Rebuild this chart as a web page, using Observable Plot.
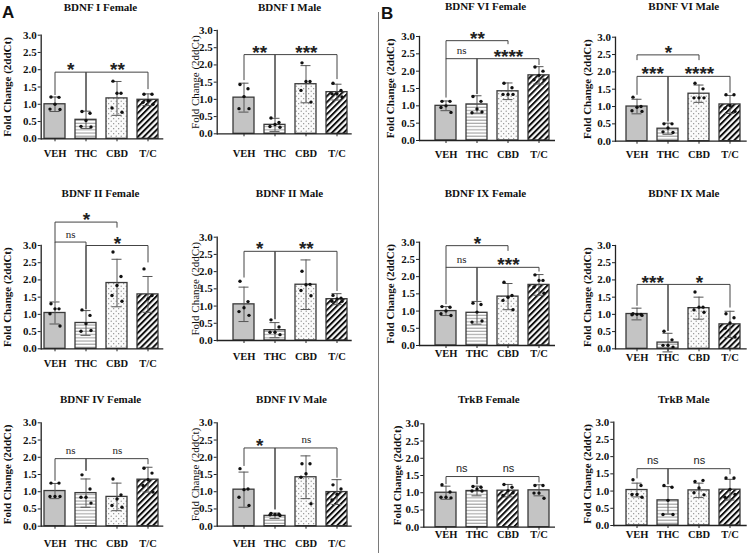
<!DOCTYPE html>
<html><head><meta charset="utf-8">
<script src="https://cdn.jsdelivr.net/npm/d3@7"></script>
<script src="https://cdn.jsdelivr.net/npm/@observablehq/plot@0.6"></script>
<style>
body{margin:0;background:#fff;}
#wrap{position:relative;width:754px;height:553px;overflow:hidden;background:#fff;}
#wrap > svg{position:absolute;left:0;top:0;}
.letter{position:absolute;font-family:"Liberation Sans",Arial,sans-serif;font-weight:bold;font-size:17px;line-height:1;color:#111;}
#divider{position:absolute;left:378px;top:12px;width:1.2px;height:541px;background:#7a7a7a;}
</style></head><body>
<div id="wrap">
<svg id="defs" width="0" height="0">
<defs>
 <pattern id="pat-h" patternUnits="userSpaceOnUse" width="4" height="3.2"><rect width="4" height="3.2" fill="#fff"/><rect y="1.3" width="4" height="0.9" fill="#8a8a8a"/></pattern>
 <pattern id="pat-d" patternUnits="userSpaceOnUse" width="4.2" height="4.2" patternTransform="rotate(45)"><rect width="4.2" height="4.2" fill="#fff"/><rect width="2" height="4.2" fill="#111"/></pattern>
 <pattern id="pat-dots" patternUnits="userSpaceOnUse" width="5" height="5"><rect width="5" height="5" fill="#fbfbfb"/><circle cx="1.2" cy="1.2" r="0.6" fill="#7a7a7a"/><circle cx="3.7" cy="3.7" r="0.6" fill="#7a7a7a"/></pattern>
</defs></svg>
<div class="letter" style="left:2px;top:4px">A</div>
<div class="letter" style="left:381px;top:5px">B</div>
<div id="divider"></div>
</div>
<script>
// ---------------- data ----------------
const groups = ["VEH", "THC", "CBD", "T/C"];
const yTicks = [0, 0.5, 1, 1.5, 2, 2.5, 3];
const yLabel = "Fold Change (2ddCt)";
const titles = ["BDNF I Female", "BDNF I Male", "BDNF VI Female", "BDNF VI Male",
  "BDNF II Female", "BDNF II Male", "BDNF IX Female", "BDNF IX Male",
  "BDNF IV Female", "BDNF IV Male", "TrkB Female", "TrkB Male"];
const means = [
  [1.00, 0.55, 1.17, 1.13],
  [1.05, 0.26, 1.44, 1.21],
  [1.00, 1.04, 1.42, 1.88],
  [1.00, 0.36, 1.37, 1.06],
  [1.04, 0.75, 1.91, 1.58],
  [1.05, 0.30, 1.62, 1.20],
  [1.00, 0.95, 1.42, 1.76],
  [1.01, 0.18, 1.18, 0.71],
  [1.02, 0.96, 0.85, 1.35],
  [1.06, 0.30, 1.42, 0.99],
  [1.00, 1.05, 1.06, 1.07],
  [1.03, 0.73, 1.02, 1.04]
];
const sds = [
  [0.21, 0.25, 0.49, 0.17],
  [0.42, 0.19, 0.54, 0.23],
  [0.14, 0.25, 0.24, 0.25],
  [0.21, 0.16, 0.25, 0.26],
  [0.32, 0.36, 0.69, 0.52],
  [0.50, 0.22, 0.72, 0.16],
  [0.13, 0.33, 0.38, 0.30],
  [0.17, 0.27, 0.32, 0.38],
  [0.22, 0.41, 0.40, 0.36],
  [0.51, 0.08, 0.62, 0.36],
  [0.19, 0.14, 0.18, 0.16],
  [0.20, 0.40, 0.21, 0.30]
];
const points = [
  [[1.21,1.2,1.0,0.86,0.85],[0.79,0.74,0.53,0.36,0.34],[1.67,1.32,1.32,0.89,0.77],[1.29,1.29,1.1,1.06,1.0]],
  [[1.43,1.31,1.08,0.73,0.73],[0.46,0.33,0.27,0.21,0.19],[2.06,1.52,1.52,1.26,0.92],[1.47,1.26,1.16,1.16,1.07]],
  [[1.13,1.13,1.0,0.95,0.81],[1.27,1.13,0.91,0.8,0.82],[1.65,1.52,1.33,1.33,1.33],[2.12,2.0,1.88,1.75,1.75]],
  [[1.27,1.0,0.98,0.88,0.86],[0.5,0.5,0.38,0.27,0.25],[1.67,1.51,1.25,1.25,1.25],[1.34,1.34,1.03,0.95,0.86]],
  [[1.31,1.16,1.16,1.02,0.66],[1.13,0.97,0.73,0.51,0.53],[2.81,2.1,1.84,1.55,1.38],[2.32,1.55,1.45]],
  [[1.72,1.13,0.95,0.84,0.73],[0.6,0.39,0.24,0.24,0.17],[2.01,1.63,1.62,1.45,1.3],[1.31,1.23,1.21,1.14,1.14]],
  [[1.13,1.11,1.0,0.92,0.87],[1.23,1.19,0.97,0.68,0.71],[1.84,1.45,1.4,1.31,1.04],[2.05,1.89,1.89,1.7,1.52]],
  [[1.02,1.0,1.0,0.99,0.97],[0.51,0.26,0.1,0.1,0.05],[1.65,1.21,1.21,1.13,1.06],[1.02,0.9,0.75,0.6,0.34]],
  [[1.25,1.25,0.86,0.86,0.86],[1.49,1.08,0.84,0.84,0.67],[1.37,0.91,0.79,0.6,0.55],[1.68,1.54,1.35,1.18,0.99]],
  [[1.67,1.08,1.06,0.84,0.6],[0.37,0.35,0.34,0.33,0.31],[1.81,1.81,1.52,1.42,0.65],[1.2,1.08,0.92,0.76]],
  [[1.23,1.02,0.87,0.87,0.85],[1.18,1.16,1.11,1.05,1.05],[1.24,1.16,1.06,0.92,1.0],[1.21,1.21,0.99,0.99,0.84]],
  [[1.33,1.16,0.9,0.9,0.82],[1.16,1.11,0.73,0.32,0.32],[1.28,1.31,1.09,0.95,0.89],[1.38,1.38,1.05,0.82,0.9]]
];
// [from, to, level, left leg end, right leg end, label]
const brackets = [
  [["VEH","THC",1.93,1.28,0.82,"*"],["THC","T/C",1.93,0.82,1.45,"**"]],
  [["VEH","THC",2.30,1.57,0.48,"**"],["THC","T/C",2.30,0.48,1.60,"***"]],
  [["VEH","CBD",2.88,2.36,2.79,"**"],["VEH","THC",2.36,1.25,1.35,"ns"],["THC","T/C",2.36,1.35,2.19,"****"]],
  [["VEH","CBD",2.49,2.35,2.35,"*"],["VEH","THC",1.87,1.35,0.58,"***"],["THC","T/C",1.87,0.58,1.41,"****"]],
  [["VEH","CBD",3.68,3.10,3.53,"*"],["VEH","THC",3.10,1.40,1.16,"ns"],["THC","T/C",3.00,1.16,2.52,"*"]],
  [["VEH","THC",2.59,1.84,0.63,"*"],["THC","T/C",2.59,0.63,1.45,"**"]],
  [["VEH","CBD",2.90,2.27,2.76,"*"],["VEH","THC",2.27,1.21,1.31,"ns"],["THC","T/C",2.27,1.31,2.16,"***"]],
  [["VEH","THC",1.87,1.26,0.53,"***"],["THC","T/C",1.87,0.53,1.21,"*"]],
  [["VEH","THC",1.96,1.33,1.62,"ns"],["THC","T/C",1.96,1.62,1.81,"ns"]],
  [["VEH","THC",2.27,1.76,0.50,"*"],["THC","T/C",2.27,0.50,1.42,"ns"]],
  [["VEH","THC",1.47,1.26,1.26,"ns"],["THC","T/C",1.47,1.26,1.31,"ns"]],
  [["VEH","THC",1.65,1.38,1.21,"ns"],["THC","T/C",1.65,1.21,1.50,"ns"]]
];

// ---------------- layout & style ----------------
const GRAY = "#c4c4c4", H = "url(#pat-h)", D = "url(#pat-d)", DOT = "url(#pat-dots)";
const stdFill = [GRAY, H, DOT, D];
const layout = [
  {x0:40.7, xEnd:163.3, y3:34.7, y0:138.3, bL:43.3, bR:158.7, pad:8, tx:100, ty:6.7, ylx:7.3, ylw:"bold"},
  {x0:216.7, xEnd:351.7, y3:30, y0:133.3, bL:232.7, bR:347.7, pad:13, tx:289, ty:6.7, ylx:195, ylw:"normal"},
  {x0:419, xEnd:555, y3:36, y0:140, bL:434.3, bR:549.7, pad:7, tx:485, ty:6, ylx:390, ylw:"bold"},
  {x0:615, xEnd:746.7, y3:36.7, y0:140.7, bL:625.7, bR:741, pad:6.3, tx:683.3, ty:6, ylx:587.3, ylw:"bold"},
  {x0:40.7, xEnd:163.3, y3:245, y0:348.3, bL:43.3, bR:158.7, pad:8, tx:100, ty:193.3, ylx:7.3, ylw:"bold"},
  {x0:216.7, xEnd:351.7, y3:236.7, y0:340, bL:232.7, bR:347.7, pad:9, tx:289, ty:193.3, ylx:195, ylw:"normal"},
  {x0:419, xEnd:555, y3:241.7, y0:345, bL:434.3, bR:549.7, pad:1.3, tx:485, ty:193.3, ylx:390, ylw:"bold"},
  {x0:615, xEnd:746.7, y3:245, y0:348.3, bL:625.7, bR:741, pad:1.4, tx:683.3, ty:193.3, ylx:587.3, ylw:"bold"},
  {x0:40.7, xEnd:163.3, y3:422.3, y0:525.7, bL:43.3, bR:158.7, pad:10.6, tx:100, ty:399.3, ylx:7.3, ylw:"bold"},
  {x0:216.7, xEnd:351.7, y3:422.3, y0:525.7, bL:232.7, bR:347.7, pad:10.6, tx:291, ty:399.3, ylx:195, ylw:"normal"},
  {x0:423.3, xEnd:555, y3:423.3, y0:526.7, bL:434.3, bR:549.7, pad:0.3, tx:488.3, ty:399.3, ylx:396.7, ylw:"bold", fills:[GRAY, H, D, GRAY], sansNs:true},
  {x0:613.3, xEnd:746.7, y3:421.7, y0:525, bL:625.7, bR:741, pad:2, tx:683.3, ty:399.3, ylx:587.3, ylw:"bold", fills:[DOT, H, DOT, D], sansNs:true}
];
const PAD_INNER = 0.33;
const jitter = [-4, 4, 0, -5, 5];
const W = 754, HGT = 553;
const SANS = "'Liberation Sans', Arial, sans-serif", SERIF = "'Liberation Serif', 'Times New Roman', serif";

function panel(i) {
  const L = layout[i];
  const fills = L.fills || stdFill;
  const rows = groups.map((g, j) => ({g, m: means[i][j], lo: means[i][j] - sds[i][j], hi: means[i][j] + sds[i][j], fill: fills[j]}));
  const dots = points[i].flatMap((arr, j) => arr.map((v, k) => ({g: groups[j], v, k})));
  const step = (L.bR - L.bL) / (groups.length - PAD_INNER);
  const brk = brackets[i].flatMap((b, k) => [
    {x: b[0], y: b[3], k}, {x: b[0], y: b[2], k}, {x: b[1], y: b[2], k}, {x: b[1], y: b[4], k}
  ]);
  const labelMarks = brackets[i].map(b => {
    const isNs = b[5] === "ns";
    return Plot.text([b], {
      x: d => d[0], y: d => d[2], text: d => d[5],
      dx: step * (groups.indexOf(b[1]) - groups.indexOf(b[0])) / 2,
      dy: isNs ? -8 : -2,
      fontSize: isNs ? 11 : 19,
      fontWeight: isNs ? "normal" : "bold",
      fontFamily: isNs ? (L.sansNs ? SANS : SERIF) : SANS,
      fill: "#222", textAnchor: "middle", lineAnchor: "middle"
    });
  });
  return Plot.plot({
    width: W, height: HGT,
    marginLeft: L.x0, marginRight: W - L.xEnd, marginTop: L.y3, marginBottom: HGT - L.y0,
    style: {background: "none", fontFamily: SERIF, fontWeight: "bold", fontSize: "11px", color: "#111"},
    x: {type: "band", domain: groups, range: [L.bL, L.bR], paddingInner: PAD_INNER, paddingOuter: 0},
    y: {domain: [0, 3]},
    color: {type: "identity"},
    marks: [
      Plot.barY(rows, {x: "g", y: "m", fill: "fill", stroke: "#3a3a3a", strokeWidth: 1.3}),
      Plot.ruleX(rows, {x: "g", y1: "lo", y2: "hi", stroke: "#555", strokeWidth: 1}),
      Plot.tickY(rows, {x: "g", y: "hi", stroke: "#555", strokeWidth: 1, insetLeft: 5.5, insetRight: 5.5}),
      Plot.tickY(rows, {x: "g", y: "lo", stroke: "#555", strokeWidth: 1, insetLeft: 5.5, insetRight: 5.5}),
      ...jitter.map((dx, k) => Plot.dot(dots.filter(d => d.k === k), {x: "g", y: "v", r: 1.7, fill: "#111", stroke: "none", dx})),
      Plot.ruleY([0], {stroke: "#222", strokeWidth: 1.3}),
      Plot.frame({anchor: "left", stroke: "#222", strokeWidth: 1.3}),
      Plot.axisY({ticks: yTicks, tickFormat: d3.format(".1f"), tickSize: 3, tickPadding: 1.5, fontSize: 11, label: null, stroke: "#222"}),
      Plot.axisX({tickSize: 3, tickPadding: L.pad, fontSize: 10.5, label: null, stroke: "#222"}),
      Plot.line(brk, {x: "x", y: "y", z: "k", stroke: "#444", strokeWidth: 1}),
      ...labelMarks,
      Plot.text([yLabel], {frameAnchor: "left", textAnchor: "middle", lineAnchor: "middle", dx: L.ylx - L.x0, rotate: -90, fontSize: 11, fontWeight: L.ylw}),
      Plot.text([titles[i]], {frameAnchor: "top-left", textAnchor: "middle", lineAnchor: "middle", dx: L.tx - L.x0, dy: L.ty - L.y3, fontSize: 11, fontWeight: "bold"})
    ]
  });
}

const wrap = document.getElementById("wrap");
for (let i = 0; i < titles.length; i++) wrap.appendChild(panel(i));
</script>
</body></html>
